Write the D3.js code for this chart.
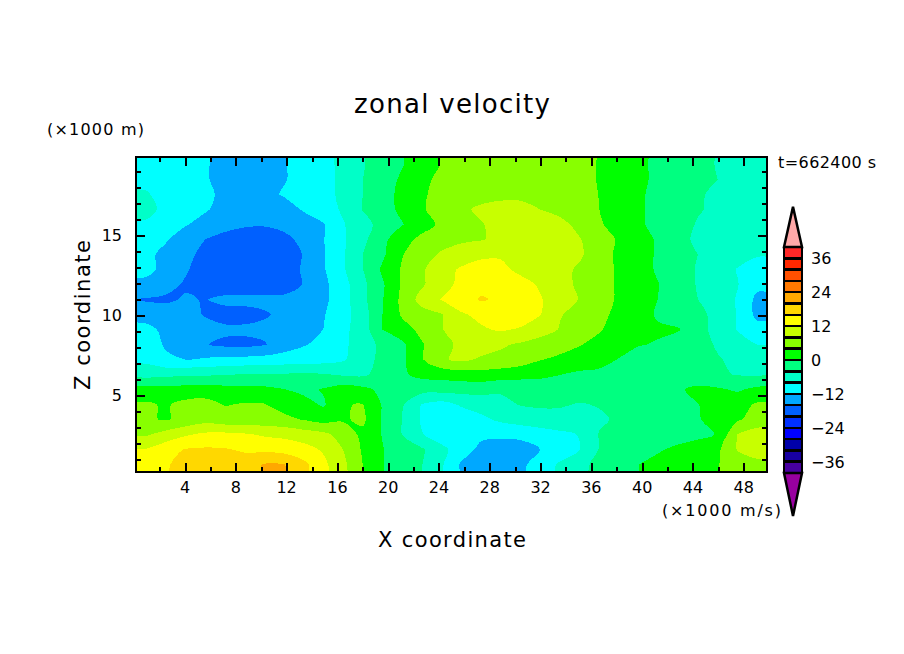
<!DOCTYPE html>
<html><head><meta charset="utf-8">
<script src="https://cdn.jsdelivr.net/npm/d3@7"></script>
<style>html,body{margin:0;background:#fff}svg{display:block}text{font-family:"DejaVu Sans";fill:#000}</style>
</head><body><svg id="c" width="904" height="654"></svg>
<script>
// Sampled field, top row first, left column first (units of the colour bar)
const row00=[-8.5,-9.5,-10.5,-11.7,-13,-13.5,-13.5,-12.2,-11,-9.3,-7,-4.3,-2,-0.2,2,4.2,5,6,6.5,6.5,6.5,6,5,3.8,2,0.8,-0.9,-2,-3,-4.2,-5,-5.5];
const row01=[-8.8,-9.5,-10.5,-11.7,-13,-13.8,-14,-12.2,-11,-9.5,-7,-4,-1.5,0.5,3,5,6,6.5,6.8,6.8,6.8,6,5,3.8,2,0.8,-0.8,-2,-3,-4,-5,-5.5];
const row02=[-7.7,-9,-10.5,-11.8,-12.2,-13.5,-13,-11.7,-10.5,-9.5,-7,-4,-1.5,1,3.4,5.5,6.5,7,7.3,7.3,7.3,6.8,5.5,3.9,2,0.5,-1,-2.5,-3.7,-4.5,-5.5,-6];
const row03=[-7,-8.8,-10.5,-11.7,-13,-14,-14.5,-13.5,-11.7,-9.8,-7.5,-3.8,-1.5,0.8,3.5,6,7.5,8.5,9,9,8,7,5.5,4,2,0.5,-1,-2.5,-3.8,-4.5,-5.5,-6];
const row04=[-8.5,-10,-11.8,-13,-14.5,-15.5,-15.7,-15,-13.5,-12.3,-8.3,-5.5,-2.5,-0.2,2.5,4.7,6,7.8,9,10,10,9,7,4.5,2.2,0.5,-1,-3,-4.2,-5,-5.5,-6.5];
const row05=[-10,-11.7,-13.5,-16,-17.5,-18,-18,-17,-15,-12.2,-8.5,-5,-1,2.5,5,6.5,7.3,7.8,8.7,10,10.5,9.5,8.2,6,3.5,1.5,-0.5,-3.2,-4.5,-5.5,-6.5,-7.5];
const row06=[-11.2,-12.8,-15,-17,-18.5,-19,-19,-18,-15.8,-12.3,-8.5,-4,-0.7,3.8,6.5,8.5,10,11,11.5,11.5,11,10,8.5,6,3,1.5,-0.5,-2.5,-4,-5.5,-6.5,-7.7];
const row07=[-11.5,-12.5,-15.5,-18,-19,-19.5,-19.5,-18,-15.5,-12.4,-8.5,-4.1,0.6,4.4,7.5,10.5,12.5,14,13,11,10,9,7.5,5.5,3.5,1.5,-0.5,-2.5,-4.3,-6,-8.2,-9.5];
const row08=[-12.5,-14.5,-16.5,-18.5,-18.5,-18.5,-18.5,-18,-15.8,-13,-9.5,-5,-0.5,4.5,7.5,10.5,13,15,15,13.5,11.5,9,7.5,5.5,3.5,2,0.1,-2,-4.3,-6,-7.8,-11];
const row09=[-16.4,-16.7,-15.6,-16.2,-15,-14.8,-14.8,-15,-15.3,-13,-9.5,-5,-0.2,5,9.5,12.2,14.5,16.3,15.5,15,12.3,10,7.8,5.5,3.5,2,-0.1,-2,-4,-6,-8.3,-13];
const row10=[-13.5,-14,-15,-16.2,-17.5,-17.5,-16.5,-15,-14,-12.3,-9.5,-6,0,4.5,6.5,7.8,11.5,13,14.5,14.5,12.2,8.2,7,5,3,1.5,-0.5,-2,-3.3,-4.8,-8.2,-13];
const row11=[-11,-12.8,-14,-15,-15.2,-15.2,-15,-14.5,-13.5,-12,-9,-6,0,2.5,5,7.8,10,11.5,12.5,11.5,9.5,7.8,6,4.3,2.5,1,0.5,0.3,-3,-5,-8.2,-10.5];
const row12=[-10.5,-12.3,-14.5,-15.8,-16.8,-17,-16.3,-14,-12.3,-11,-9,-5.5,-3.2,-0.8,3.7,6.5,9,9.8,8.5,7.5,6.5,5.5,4.2,3,1.8,0.2,-0.3,-1.8,-3,-4.3,-6,-8];
const row13=[-9,-11.5,-12,-11.5,-11,-10.8,-10.5,-10.2,-10,-9.5,-8.5,-5.5,-3,-0.8,3.7,7.5,8.8,7.5,7,6,4.2,3.2,2.5,1.5,-0.2,-1.5,-1.8,-2,-3,-3.8,-4.6,-5.5];
const row14=[-5.5,-5,-4.7,-4.5,-4.2,-3.8,-3.7,-3.6,-3.5,-3.7,-4.5,-4.7,-2.5,-0.5,1,1.5,2,2.5,2,1.5,1,0.1,-0.8,-1,-1.5,-1.8,-2,-2.5,-3,-3.5,-4.2,-4.5];
const row15=[1.5,1.5,1.8,1.8,1.5,1.2,1,0.1,-1,0.3,2,1,-1,-2.5,-2.5,-2.5,-2.5,-2.5,-3.5,-3,-2.5,-2.5,-2.5,-2.2,-2,-1.5,-1,-0.5,1,0.5,-0.5,1];
const row16=[4.5,3.6,5,5.5,3.8,4.3,4.2,2.5,1.5,-0.5,3.9,4.1,-0.3,-3.5,-8.2,-9.5,-7.5,-6.5,-5,-3.8,-3.5,-3.7,-4.2,-3.8,-3,-2,-1.5,-0.7,-0.1,1.5,2.5,4.5];
const row17=[4.5,3.7,5,6.5,5.5,5.5,5.5,5,3.8,2.5,3.5,4.8,-0.5,-4,-8.5,-11,-10.5,-8.8,-7.3,-6.5,-5.5,-5,-5,-4.5,-3.5,-2,-1.5,-0.8,-0.2,1,3.5,5.5];
const row18=[7.5,9.5,11.5,12.8,13,12.5,11.5,11,10,9,6.5,3,-0.2,-4,-7.8,-10,-11,-11.2,-11,-10.5,-10,-9,-7.8,-3.8,-3.5,-3,-2.5,-2,-1,0.2,8.1,10];
const row19=[12.2,14.5,16.2,16.5,16.3,15.5,15,14.5,13.5,11.5,8,3.5,0.2,-2.5,-3.5,-7,-10,-13,-14.5,-14.5,-12,-10,-8,-3.8,-2.5,-1.5,-0.5,1,2,3.3,8.2,10.5];
const row20=[13,15.5,17.5,18.5,18.8,18,20.3,20.2,17,13,9,4,0.2,-2.5,-3.9,-7.5,-12.5,-15,-15.3,-13,-10,-7.5,-4.5,-3.5,-1.5,0,1.5,2.5,3.5,3.8,6,6.5];
const fieldRows=[row00,row01,row02,row03,row04,row05,row06,row07,row08,row09,row10,row11,row12,row13,row14,row15,row16,row17,row18,row19,row20];

// Colour bar: levels bottom to top, one band colour per interval
const levels=[-40,-36,-32,-28,-24,-20,-16,-12,-8,-4,0,4,8,12,16,20,24,28,32,36,40];
const bandColors=["#4800a0","#1800a0","#0000a8","#0000ff","#0030ff","#0060ff","#00a8ff","#00ffff","#00ffc8","#00ff80","#00ff00","#88ff00","#c8ff00","#ffff00","#ffd800","#ffa800","#ff7800","#ff5000","#ff2800","#ff2828"];
const overColor="#ffa8a8", underColor="#9800a0";
const cbLabels=[-36,-24,-12,0,12,24,36];
const xMajor=[4,8,12,16,20,24,28,32,36,40,44,48];
const xMinor=[2,6,10,14,18,22,26,30,34,38,42,46];
const yMajor=[5,10,15];
const yMinor=[1,2,3,4,6,7,8,9,11,12,13,14,16,17,18,19];
const xDomain=[0.14,49.83], yDomain=[0.19,19.88];

const svg=d3.select("#c");
const x=d3.scaleLinear(xDomain,[136,767]);
const y=d3.scaleLinear(yDomain,[472,157]);
const nx=row00.length, ny=fieldRows.length;
// One repeated edge cell around the field keeps the contour corners outside the clipped frame
const pad=r=>[r[0],...r,r[r.length-1]];
const padded=[fieldRows[0],...fieldRows,fieldRows[ny-1]].map(pad);
const gx=d3.scaleLinear([1,nx+1],[136,767]);
const gy=d3.scaleLinear([1,ny+1],[157,472]);
const contours=d3.contours().size([nx+2,ny+2]).thresholds(levels.slice(1))(d3.merge(padded));
const ringLine=d3.line().x(p=>gx(p[0])).y(p=>gy(p[1])).curve(d3.curveCatmullRomClosed.alpha(0.5));
const shape=d=>d.coordinates.map(poly=>poly.map(ring=>ringLine(ring.slice(0,-1))).join("")).join("");

svg.append("defs").append("clipPath").attr("id","pl").append("rect")
  .attr("x",136).attr("y",157).attr("width",631).attr("height",315);
const plot=svg.append("g").attr("clip-path","url(#pl)").attr("shape-rendering","crispEdges");
plot.append("rect").attr("x",136).attr("y",157).attr("width",631).attr("height",315).attr("fill",bandColors[0]);
plot.selectAll("path").data(contours).join("path")
  .attr("d",shape)
  .attr("fill",d=>bandColors[levels.indexOf(d.value)]);

// Axes: ticks point inward on all four sides
function ticks(axisFn,scale,vals,size,tr){
  const a=axisFn(scale).tickValues(vals).tickSizeInner(size).tickSizeOuter(0).tickFormat("");
  const g=svg.append("g").attr("transform",tr).call(a);
  g.select(".domain").remove();
  g.selectAll("line").attr("stroke","#000").attr("stroke-width",2).attr("shape-rendering","crispEdges");
}
[[xMajor,9],[xMinor,5]].forEach(([v,s])=>{
  ticks(d3.axisBottom,x,v,-s,"translate(0,472)");
  ticks(d3.axisTop,x,v,-s,"translate(0,157)");
});
[[yMajor,9],[yMinor,5]].forEach(([v,s])=>{
  ticks(d3.axisLeft,y,v,-s,"translate(136,0)");
  ticks(d3.axisRight,y,v,-s,"translate(767,0)");
});
svg.append("rect").attr("x",136).attr("y",157).attr("width",631).attr("height",315)
  .attr("fill","none").attr("stroke","#000").attr("stroke-width",2).attr("shape-rendering","crispEdges");

const label=(t,px,py,size,anchor,len)=>{
  const e=svg.append("text").attr("x",px).attr("y",py).attr("font-size",size).attr("text-anchor",anchor||"start").text(t);
  if(len)e.attr("textLength",len).attr("lengthAdjust","spacing");
  return e;
};
xMajor.forEach(v=>label(v,x(v),493,16,"middle"));
yMajor.forEach(v=>label(v,122,y(v)+6,16,"end"));
label("zonal velocity",354,113,26,"start",196);
label("(×1000 m)",47,135,16,"start",97);
label("t=662400 s",778,168,16,"start",98);
label("(×1000 m/s)",662,516,16,"start",119);
label("X coordinate",378,547,21,"start",148);
svg.append("text").attr("transform","translate(90,390) rotate(-90)").attr("font-size",21)
  .attr("textLength",150).attr("lengthAdjust","spacing").text("Z coordinate");

// Colour bar
const cb=d3.scaleLinear([-40,40],[473,247]);
const cbX=d3.scaleLinear([0,1],[784,802]);
const cbTip=14.2;
const cbG=svg.append("g").attr("shape-rendering","crispEdges");
cbG.selectAll("rect").data(bandColors).join("rect")
  .attr("x",cbX(0)).attr("width",cbX(1)-cbX(0))
  .attr("y",(d,i)=>cb(levels[i+1])).attr("height",(d,i)=>cb(levels[i])-cb(levels[i+1]))
  .attr("fill",d=>d).attr("stroke","#000").attr("stroke-width",2.5);
const tri=(base,tip,col)=>svg.append("path")
  .attr("d",d3.line()([[cbX(0),cb(base)],[cbX(.5),cb(tip)],[cbX(1),cb(base)]])+"Z")
  .attr("fill",col).attr("stroke","#000").attr("stroke-width",2.5);
tri(40,40+cbTip,overColor);
tri(-40,-40-cbTip-1,underColor);
cbLabels.forEach(v=>label(v<0?"\u2212"+(-v):v,811,cb(v)+6,16,"start"));
</script></body></html>
